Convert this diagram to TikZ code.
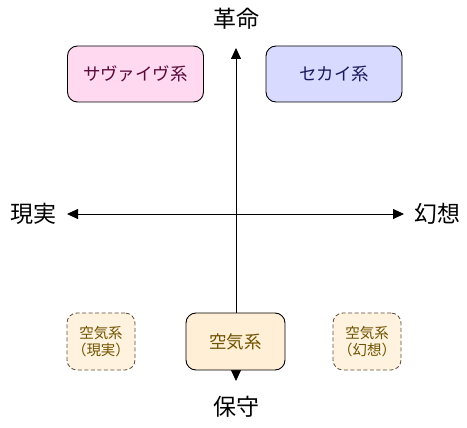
\documentclass[tikz,border=0pt]{standalone}
\usepackage{fontspec}
\usetikzlibrary{arrows.meta}
\newfontfamily\jpfont{Noto Sans CJK JP}
\definecolor{survivefill}{HTML}{FFD9F0}
\definecolor{survivetext}{HTML}{5A0A3A}
\definecolor{sekaifill}{HTML}{D9DAFF}
\definecolor{sekaitext}{HTML}{1A1A5E}
\definecolor{kukifill}{HTML}{FFEFD6}
\definecolor{kukitext}{HTML}{6E5200}
\definecolor{kukiline}{HTML}{5E4E3A}
\tikzset{
    genrebox/.style={draw=black, line width=0.9pt, rounded corners=10pt, minimum width=136pt, minimum height=56pt, font=\jpfont\fontsize{17.5}{20}\selectfont},
    subbox/.style={draw=kukiline, line width=0.8pt, dash pattern=on 4pt off 2.5pt, fill=kukifill!80, text=kukitext, rounded corners=10pt, minimum width=68pt, minimum height=57pt, align=center, font=\jpfont\fontsize{14.5}{17}\selectfont},
    axislabel/.style={font=\jpfont\fontsize{23}{25}\selectfont},
    axisarrow/.style={line width=0.8pt, {Triangle[length=11pt, width=10pt]}-{Triangle[length=11pt, width=10pt]}}
}
\begin{document}
\begin{tikzpicture}[x=1pt, y=-1pt]
        \useasboundingbox (0, 0) rectangle (467, 428);

        % Nodes
        \node[axislabel] (Kakumei) at (236, 19) {革命};
        \node[axislabel] (Hoshu) at (236, 407) {保守};
        \node[axislabel] (Genjitsu) at (33, 214) {現実};
        \node[axislabel] (Gensou) at (437, 214) {幻想};

        \coordinate (Top) at (236, 48);
        \coordinate (Bottom) at (236, 381);
        \coordinate (Left) at (67, 214);
        \coordinate (Right) at (404, 214);

        % Arrows
        \draw[axisarrow] (Bottom) -- (Top);
        \draw[axisarrow] (Left) -- (Right);

        % Boxes
        \node[genrebox, fill=survivefill, text=survivetext] (Survive) at (135.5, 74) {サヴァイヴ系};
        \node[genrebox, fill=sekaifill, text=sekaitext] (Sekai) at (334, 74) {セカイ系};
        \node[genrebox, fill=kukifill, text=kukitext, minimum width=99pt, minimum height=57pt] (Kuki) at (235.5, 341.5) {空気系};
        \node[subbox] (KukiGenjitsu) at (101, 341.5) {空気系\\（現実）};
        \node[subbox] (KukiGensou) at (367, 341.5) {空気系\\（幻想）};
    \end{tikzpicture}
\end{document}
